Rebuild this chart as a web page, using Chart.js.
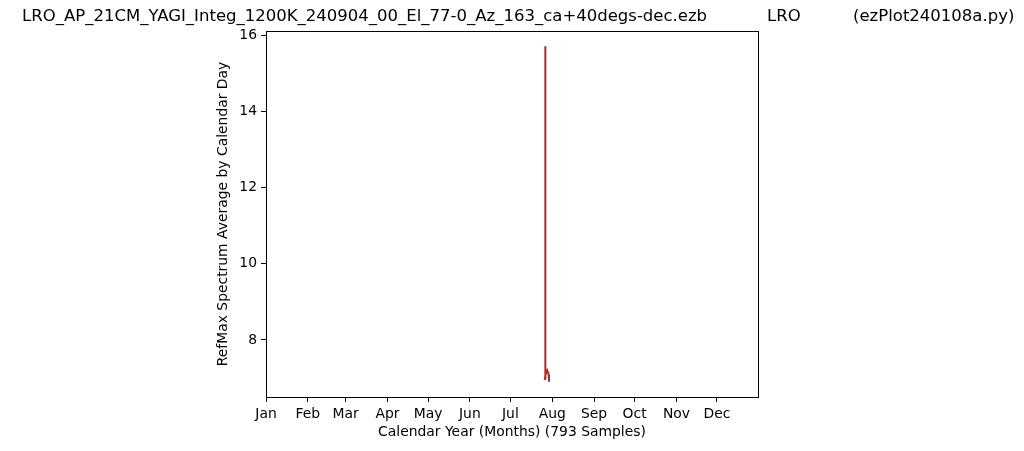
<!DOCTYPE html>
<html>
<head>
<meta charset="utf-8">
<script src="https://cdn.jsdelivr.net/npm/chart.js@4"></script>
<style>
  html, body { margin: 0; padding: 0; background: #fff; }
  #wrap { width: 1024px; height: 451px; position: relative; }
</style>
</head>
<body>
<div id="wrap"><canvas id="chart"></canvas></div>
<script>
// --- data ---
const titleParts = ['LRO_AP_21CM_YAGI_Integ_1200K_240904_00_El_77-0_Az_163_ca+40degs-dec.ezb', 'LRO', '(ezPlot240108a.py)'];
const monthNames = ['Jan', 'Feb', 'Mar', 'Apr', 'May', 'Jun', 'Jul', 'Aug', 'Sep', 'Oct', 'Nov', 'Dec'];
const monthStartDays = [1, 32, 60, 91, 121, 152, 182, 213, 244, 274, 305, 335];
const yTicks = [8, 10, 12, 14, 16];
// day of year (fractional) and daily RefMax average
const sampleDays = [207.9, 207.9, 207.9, 207.4, 208.3, 209.3, 210.3, 210.6];
const sampleValues = [15.72, 7.3, 7.0, 6.95, 7.12, 7.2, 7.1, 6.9];

const FONT = 'DejaVu Sans';

const boxPlugin = {
  id: 'box',
  afterDraw(chart) {
    const { ctx, chartArea: a } = chart;
    ctx.save();
    ctx.strokeStyle = '#000';
    ctx.lineWidth = 1;
    ctx.strokeRect(a.left + 0.5, a.top + 0.5, a.right - a.left, a.bottom - a.top);
    // title pieces, matplotlib suptitle style
    ctx.fillStyle = '#000';
    ctx.font = '16.5px "' + FONT + '"';
    ctx.textBaseline = 'middle';
    ctx.textAlign = 'left';
    ctx.fillText(titleParts[0], 22, 17);
    ctx.fillText(titleParts[1], 767, 17);
    ctx.fillText(titleParts[2], 853, 17);
    ctx.restore();
  }
};

new Chart(document.getElementById('chart'), {
  type: 'line',
  data: {
    datasets: [{
      data: sampleDays.map((d, i) => ({ x: d, y: sampleValues[i] })),
      borderColor: '#a52a2a',
      borderWidth: 2,
      pointRadius: 0,
      tension: 0,
      fill: false
    }]
  },
  options: {
    responsive: true,
    maintainAspectRatio: false,
    animation: false,
    layout: { padding: { left: 210, top: 31, right: 266, bottom: 0 } },
    plugins: { legend: { display: false }, tooltip: { enabled: false } },
    scales: {
      x: {
        type: 'linear',
        min: 1,
        max: 365.4,
        afterBuildTicks: s => { s.ticks = monthStartDays.map(v => ({ value: v })); },
        afterFit: s => { s.height = 54; },
        ticks: {
          color: '#000',
          font: { family: FONT, size: 13.9 },
          padding: 4,
          maxRotation: 0,
          autoSkip: false,
          callback: v => monthNames[monthStartDays.indexOf(v)]
        },
        grid: { drawOnChartArea: false, tickLength: 5, color: '#000' },
        border: { color: '#000' },
        title: {
          display: true,
          text: 'Calendar Year (Months) (793 Samples)',
          color: '#000',
          font: { family: FONT, size: 13.9 },
          padding: { top: 0, bottom: 10 }
        }
      },
      y: {
        min: 6.5,
        max: 16.12,
        afterBuildTicks: s => { s.ticks = yTicks.map(v => ({ value: v })); },
        afterFit: s => { s.width = 56; },
        ticks: {
          color: '#000',
          font: { family: FONT, size: 13.9 },
          padding: 4
        },
        grid: { drawOnChartArea: false, tickLength: 5, color: '#000' },
        border: { color: '#000' },
        title: {
          display: true,
          text: 'RefMax Spectrum Average by Calendar Day',
          color: '#000',
          font: { family: FONT, size: 13.9 },
          padding: { top: 5, bottom: 0 }
        }
      }
    }
  },
  plugins: [boxPlugin]
});
</script>
</body>
</html>
